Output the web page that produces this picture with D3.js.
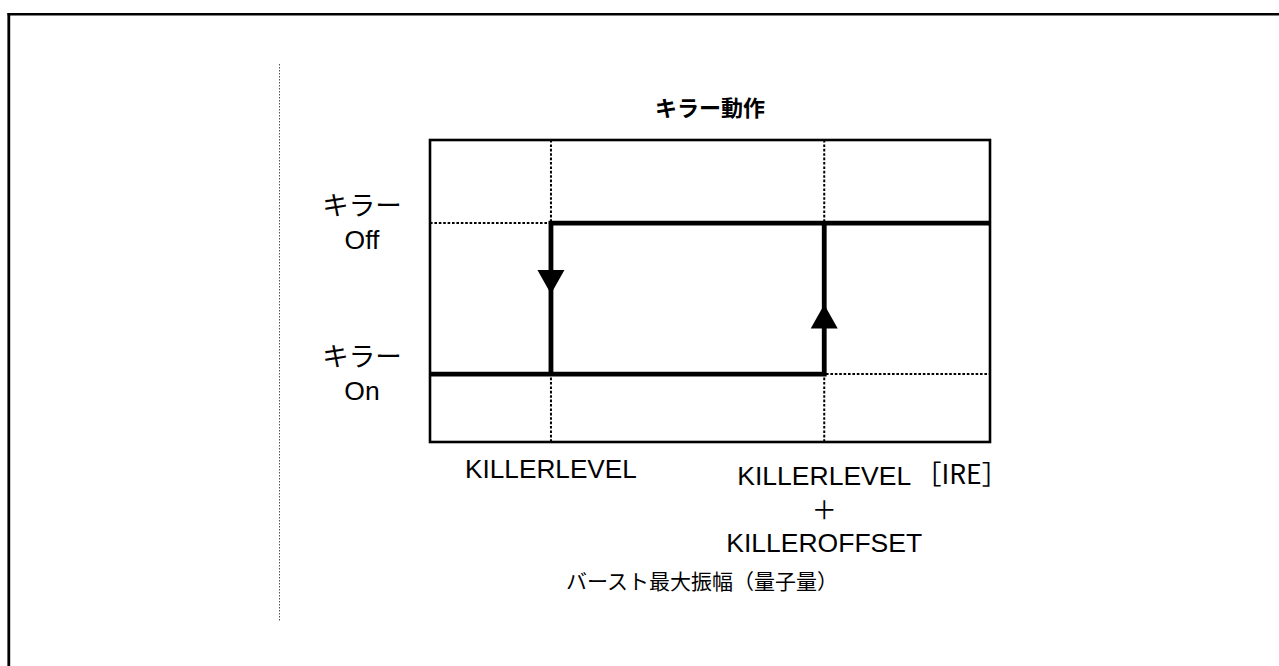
<!DOCTYPE html>
<html>
<head>
<meta charset="utf-8">
<script src="https://cdn.jsdelivr.net/npm/d3@7"></script>
<style>
  html, body { margin: 0; padding: 0; background: #fff; }
  svg { display: block; }
</style>
</head>
<body>
<svg id="chart" width="1279" height="666"></svg>
<script>
// ---- data ----
const title = "キラー動作";
const stateNames = ["キラー", "キラー"];
const stateSubs = ["On", "Off"];
const stateValues = [0, 1];               // On = 0, Off = 1
const thresholdNames = ["KILLERLEVEL", "KILLERLEVEL＋KILLEROFFSET"];
const killerLevel = 21.6;                 // position along burst amplitude axis (0..100)
const killerOffset = 48.8;
const thresholdValues = [killerLevel, killerLevel + killerOffset];
const unitLabel = "［IRE］";
const xAxisTitle = "バースト最大振幅（量子量）";
// hysteresis path: rising goes On -> Off at level+offset, falling Off -> On at level
const risingPath = [[0, 0], [killerLevel + killerOffset, 0], [killerLevel + killerOffset, 1]];
const fallingPath = [[100, 1], [killerLevel, 1], [killerLevel, 0]];

// ---- layout ----
const svg = d3.select("#chart");
const frame = { left: 430, right: 990, top: 140, bottom: 442 };
const x = d3.scaleLinear().domain([0, 100]).range([frame.left, frame.right]);
const y = d3.scaleLinear().domain([-0.45, 1.55]).range([frame.bottom, frame.top]);

const jp = "'Noto Sans CJK JP', 'Noto Sans', sans-serif";
const lat = "'Liberation Sans', Arial, sans-serif";

// page border (top + left)
svg.append("line").attr("x1", 7.5).attr("x2", 1279).attr("y1", 14.2).attr("y2", 14.2)
  .attr("stroke", "#000").attr("stroke-width", 2.6);
svg.append("line").attr("x1", 8.8).attr("x2", 8.8).attr("y1", 13).attr("y2", 666)
  .attr("stroke", "#000").attr("stroke-width", 2.8);

// faint dotted separator
svg.append("line").attr("x1", 279.5).attr("x2", 279.5).attr("y1", 64).attr("y2", 622)
  .attr("stroke", "#555").attr("stroke-width", 1).attr("stroke-dasharray", "1.5,1.5");

// dotted guide lines
const g = svg.append("g");
thresholdValues.forEach(v => {
  g.append("line").attr("x1", x(v)).attr("x2", x(v)).attr("y1", frame.top).attr("y2", frame.bottom)
    .attr("stroke", "#000").attr("stroke-width", 2).attr("stroke-dasharray", "2.6,1.8");
});
stateValues.forEach(v => {
  g.append("line").attr("x1", frame.left).attr("x2", frame.right).attr("y1", y(v)).attr("y2", y(v))
    .attr("stroke", "#000").attr("stroke-width", 2).attr("stroke-dasharray", "2.6,1.8");
});

// frame
g.append("rect").attr("x", frame.left).attr("y", frame.top)
  .attr("width", frame.right - frame.left).attr("height", frame.bottom - frame.top)
  .attr("fill", "none").attr("stroke", "#000").attr("stroke-width", 2.6);

// hysteresis paths
const line = d3.line().x(d => x(d[0])).y(d => y(d[1])).curve(d3.curveLinear);
[risingPath, fallingPath].forEach(p => {
  g.append("path").attr("d", line(p)).attr("fill", "none")
    .attr("stroke", "#000").attr("stroke-width", 4.8).attr("stroke-linejoin", "miter")
    .attr("stroke-linecap", "butt");
});

// arrows
function arrow(xv, tipY, dir) { // dir: +1 pointing down, -1 pointing up
  const cx = x(xv), h = 24, hw = 13.5;
  const baseY = tipY - dir * h;
  g.append("path")
    .attr("d", `M${cx - hw},${baseY} L${cx + hw},${baseY} L${cx},${tipY} Z`)
    .attr("fill", "#000");
}
arrow(killerLevel, y(0.53), 1);
arrow(killerLevel + killerOffset, y(0.46), -1);

// title
svg.append("text").attr("x", 710).attr("y", 116).attr("text-anchor", "middle")
  .attr("font-family", jp).attr("font-weight", "bold").attr("font-size", 22).text(title);

// state labels
stateValues.forEach((v, i) => {
  const cy = y(v);
  svg.append("text").attr("x", 362).attr("y", cy - 8).attr("text-anchor", "middle")
    .attr("font-family", jp).attr("font-size", 26.5).text(stateNames[i]);
  svg.append("text").attr("x", 362).attr("y", cy + 26).attr("text-anchor", "middle")
    .attr("font-family", lat).attr("font-size", 26.5).text(stateSubs[i]);
});

// threshold labels
svg.append("text").attr("x", x(thresholdValues[0])).attr("y", 478).attr("text-anchor", "middle")
  .attr("font-family", lat).attr("font-size", 26.2).text(thresholdNames[0]);
const parts = thresholdNames[1].split("＋");
const tx = x(thresholdValues[1]);
svg.append("text").attr("x", tx).attr("y", 485).attr("text-anchor", "middle")
  .attr("font-family", lat).attr("font-size", 26.5).text(parts[0]);
svg.append("text").attr("x", tx).attr("y", 519).attr("text-anchor", "middle")
  .attr("font-family", jp).attr("font-size", 25).text("＋");
svg.append("text").attr("x", tx).attr("y", 552).attr("text-anchor", "middle")
  .attr("font-family", lat).attr("font-size", 26.5).text(parts[1]);
svg.append("text").attr("x", 915).attr("y", 484).attr("text-anchor", "start")
  .attr("font-family", jp).attr("font-size", 26.5).text(unitLabel);

// x axis title
svg.append("text").attr("x", 702).attr("y", 589).attr("text-anchor", "middle")
  .attr("font-family", jp).attr("font-size", 21).text(xAxisTitle);
</script>
</body>
</html>
